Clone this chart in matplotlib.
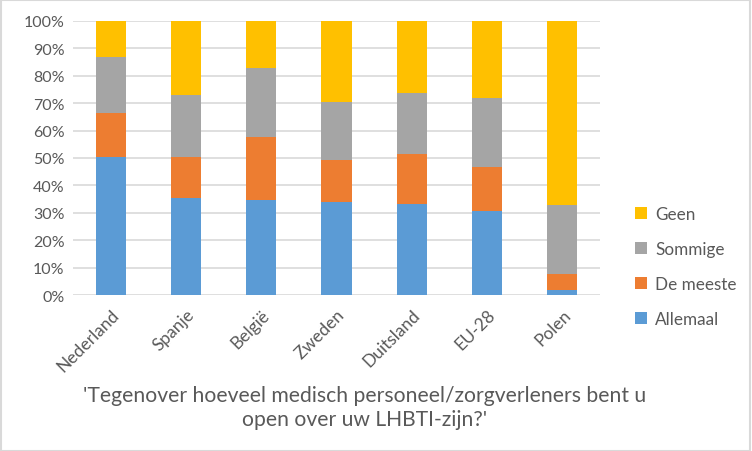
import matplotlib
matplotlib.use("Agg")
import matplotlib.pyplot as plt
from matplotlib.patches import Rectangle
import numpy as np

categories = ["Nederland", "Spanje", "België", "Zweden", "Duitsland", "EU-28", "Polen"]
allemaal = [50.5, 35.4, 34.7, 33.9, 33.2, 30.8, 1.8]
de_meeste = [16.0, 15.1, 23.1, 15.4, 18.3, 16.0, 5.9]
sommige = [20.5, 22.6, 25.0, 21.1, 22.2, 25.1, 25.3]
geen = [13.0, 26.9, 17.2, 29.6, 26.3, 28.1, 67.0]
series_names = ["Allemaal", "De meeste", "Sommige", "Geen"]
colors = ["#5B9BD5", "#ED7D31", "#A5A5A5", "#FFC000"]
title = "'Tegenover hoeveel medisch personeel/zorgverleners bent u\nopen over uw LHBTI-zijn?'"

plt.rcParams['font.family'] = ['Lato', 'DejaVu Sans']
txt = "#595959"

fig = plt.figure(figsize=(7.52, 4.52), dpi=100)
ax = fig.add_axes([73/752, 1-296/452, (600-73)/752, (296-22)/452])

x = np.arange(len(categories))
bottom = np.zeros(len(categories))
handles = []
for vals, name, c in zip([allemaal, de_meeste, sommige, geen], series_names, colors):
    h = ax.bar(x, vals, 0.4, bottom=bottom, color=c, label=name, zorder=3)
    handles.append(h)
    bottom += np.array(vals)

ax.set_xlim(-0.5, len(categories) - 0.5)
ax.set_ylim(0, 100)
ax.set_yticks(np.arange(0, 101, 10))
ax.set_yticklabels([f"{v}%" for v in range(0, 101, 10)], color=txt, fontsize=11.5)
ax.set_xticks(x)
ax.set_xticklabels(categories, rotation=45, ha="right", rotation_mode="anchor", color=txt, fontsize=12.5)
ax.tick_params(length=0, pad=6)
ax.tick_params(axis='x', pad=8)
ax.grid(axis='y', color="#D9D9D9", lw=1.2, zorder=0)
for s in ax.spines.values():
    s.set_visible(False)

leg = fig.legend(handles[::-1], series_names[::-1], loc="upper left",
                 bbox_to_anchor=(620/752, 1-192/452), frameon=False,
                 fontsize=12.3, handlelength=0.7, handleheight=0.7,
                 labelspacing=1.1, handletextpad=0.45)
for t in leg.get_texts():
    t.set_color(txt)

fig.text(365/752, 1-408/452, title, ha="center", va="center", color=txt,
         fontsize=15.2, linespacing=1.3)

fig.patches.append(Rectangle((0.001, 0.001), 0.997, 0.997, transform=fig.transFigure,
                             fill=False, edgecolor="#D9D9D9", lw=1.5))

fig.savefig("out.png", dpi=100)
